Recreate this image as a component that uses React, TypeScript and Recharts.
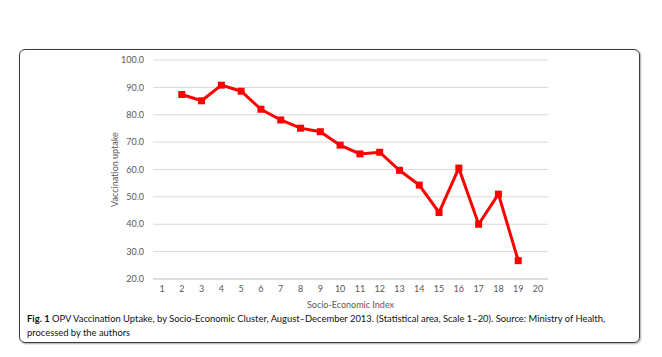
import { LineChart, Line, XAxis, YAxis, CartesianGrid } from "recharts";

const indexes = [1, 2, 3, 4, 5, 6, 7, 8, 9, 10, 11, 12, 13, 14, 15, 16, 17, 18, 19, 20];
const uptake: (number | null)[] = [
  null, 87.4, 85.1, 90.8, 88.6, 82.0, 78.1, 75.1, 73.8, 68.9,
  65.7, 66.3, 59.7, 54.3, 44.3, 60.5, 40.0, 51.0, 26.7, null,
];
const yTicks = [20, 30, 40, 50, 60, 70, 80, 90, 100];

const data = indexes.map((idx, i) => ({ idx, value: uptake[i] }));

const tickStyle = { fontSize: 9, fill: "#595959", fontFamily: "Lato, 'Open Sans', sans-serif" };

const SquareDot = (props: any) => {
  const { cx, cy, index, value } = props;
  if (value == null || cx == null || cy == null) return <g key={`d-${index}`} />;
  return <rect key={`d-${index}`} x={cx - 3.5} y={cy - 3.5} width={7} height={7} fill="#ff0000" />;
};

export default function App() {
  return (
    <div style={{ position: "absolute", left: 0, top: 0, width: 662, height: 357, background: "#fff" }}>
      <div
        style={{
          position: "absolute",
          left: 19,
          top: 49,
          width: 619,
          height: 292,
          border: "1.5px solid #3a3a3a",
          borderRadius: 6,
          boxShadow: "1px 1px 2px rgba(0,0,0,0.35)",
        }}
      />
      <div style={{ position: "absolute", left: 0, top: 0 }}>
        <LineChart
          width={662}
          height={320}
          data={data}
          margin={{ top: 60, right: 114, left: 113, bottom: 11 }}
        >
          <CartesianGrid vertical={false} stroke="#d9d9d9" />
          <XAxis
            dataKey="idx"
            type="category"
            height={30}
            padding={{ left: 9, right: 10 }}
            tick={tickStyle}
            tickLine={false}
            axisLine={{ stroke: "#d9d9d9", strokeWidth: 1.5 }}
            tickSize={6}
            tickMargin={1}
            interval={0}
            label={{
              value: "Socio-Economic Index",
              position: "insideBottom",
              offset: 1,
              style: { ...tickStyle, fontSize: 9 },
            }}
          />
          <YAxis
            type="number"
            domain={[20, 100]}
            ticks={yTicks}
            width={40}
            tick={tickStyle}
            tickFormatter={(v: number) => v.toFixed(1)}
            tickLine={false}
            axisLine={false}
            tickSize={6}
            tickMargin={3}
            label={{
              value: "Vaccination uptake",
              angle: -90,
              position: "left",
              offset: -2,
              style: { ...tickStyle, fontSize: 9, textAnchor: "middle" },
            }}
          />
          <Line
            type="linear"
            dataKey="value"
            stroke="#ff0000"
            strokeWidth={3}
            dot={SquareDot}
            activeDot={false}
            isAnimationActive={false}
          />
        </LineChart>
      </div>
      <div
        style={{
          position: "absolute",
          left: 27,
          top: 312,
          whiteSpace: "nowrap",
          fontFamily: "Lato, 'Open Sans', sans-serif",
          fontSize: 9.4,
          lineHeight: "14px",
          color: "#111",
        }}
      >
        <b>Fig. 1</b> OPV Vaccination Uptake, by Socio-Economic Cluster, August–December 2013. (Statistical area, Scale 1–20). Source: Ministry of Health,
        <br />
        processed by the authors
      </div>
    </div>
  );
}
